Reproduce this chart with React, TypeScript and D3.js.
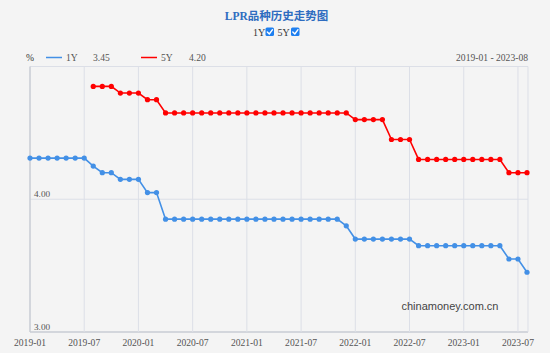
import React from 'react';
import * as d3 from 'd3';

// months 2019-01 .. 2023-08
const months: string[] = d3.range(0, 56).map(i => {
  const y = 2019 + Math.floor(i / 12);
  const m = (i % 12) + 1;
  return `${y}-${m < 10 ? '0' + m : m}`;
});

const rate1Y: number[] = [
  4.31, 4.31, 4.31, 4.31, 4.31, 4.31, 4.31, 4.25, 4.20, 4.20, 4.15, 4.15,
  4.15, 4.05, 4.05, 3.85, 3.85, 3.85, 3.85, 3.85, 3.85, 3.85, 3.85, 3.85,
  3.85, 3.85, 3.85, 3.85, 3.85, 3.85, 3.85, 3.85, 3.85, 3.85, 3.85, 3.80,
  3.70, 3.70, 3.70, 3.70, 3.70, 3.70, 3.70, 3.65, 3.65, 3.65, 3.65, 3.65,
  3.65, 3.65, 3.65, 3.65, 3.65, 3.55, 3.55, 3.45,
];

const rate5Y: (number | null)[] = [
  null, null, null, null, null, null, null, 4.85, 4.85, 4.85, 4.80, 4.80,
  4.80, 4.75, 4.75, 4.65, 4.65, 4.65, 4.65, 4.65, 4.65, 4.65, 4.65, 4.65,
  4.65, 4.65, 4.65, 4.65, 4.65, 4.65, 4.65, 4.65, 4.65, 4.65, 4.65, 4.65,
  4.60, 4.60, 4.60, 4.60, 4.45, 4.45, 4.45, 4.30, 4.30, 4.30, 4.30, 4.30,
  4.30, 4.30, 4.30, 4.30, 4.30, 4.20, 4.20, 4.20,
];

const xTicks = months.filter((_, i) => i % 6 === 0);
const yTicks = [3, 4];

const width = 550, height = 353;
const left = 30, right = 527, top = 66.5, bottom = 332;
const serif = '"Liberation Serif", "Times New Roman", "Noto Sans CJK SC", serif';
const textColor = '#555';
const blue = '#4390e6';
const red = '#ff0000';
const grid = '#dcdfe7';
const fs = 9.6;

const Check = ({ x, y }: { x: number; y: number }) => (
  <g transform={`translate(${x},${y})`}>
    <rect width={8.5} height={8.5} rx={1.5} fill="#1e7ff0" />
    <path d="M1.8 4.5 L3.8 6.5 L7 2.2" fill="none" stroke="#fff" strokeWidth={1.4} strokeLinecap="round" strokeLinejoin="round" />
  </g>
);

export default function App() {
  const x = d3.scalePoint<string>().domain(months).range([left, right]);
  const y = d3.scaleLinear().domain([3, 5]).range([bottom, top]);

  const line = d3.line<number | null>()
    .defined(d => d != null)
    .x((_, i) => x(months[i]) as number)
    .y(d => y(d as number));

  const series = [
    { name: '1Y', values: rate1Y as (number | null)[], color: blue },
    { name: '5Y', values: rate5Y, color: red },
  ];

  return (
    <svg width={width} height={height} style={{ position: 'absolute', left: 0, top: 0, background: '#f4f4f4' }}>
      <rect width={width} height={height} fill="#f4f4f4" />

      <text x={276.5} y={20} textAnchor="middle" fontFamily={serif} fontSize={11.5} fontWeight="bold" fill="#2e6cc0">LPR品种历史走势图</text>
      <text x={253} y={35.5} fontFamily={serif} fontSize={10} fill="#333">1Y</text>
      <Check x={265.5} y={27.5} />
      <text x={277.5} y={35.5} fontFamily={serif} fontSize={10} fill="#333">5Y</text>
      <Check x={291} y={27.5} />

      {/* legend row */}
      <text x={26} y={61} fontFamily={serif} fontSize={fs} fill="#333">%</text>
      <line x1={46} x2={62} y1={57.5} y2={57.5} stroke={blue} strokeWidth={1.5} />
      <text x={66} y={61} fontFamily={serif} fontSize={fs} fill={textColor}>1Y</text>
      <text x={93} y={61} fontFamily={serif} fontSize={fs} fill={textColor}>{rate1Y[rate1Y.length - 1].toFixed(2)}</text>
      <line x1={141} x2={157} y1={57.5} y2={57.5} stroke={red} strokeWidth={1.5} />
      <text x={161} y={61} fontFamily={serif} fontSize={fs} fill={textColor}>5Y</text>
      <text x={189} y={61} fontFamily={serif} fontSize={fs} fill={textColor}>{(rate5Y[rate5Y.length - 1] as number).toFixed(2)}</text>
      <text x={528} y={61} textAnchor="end" fontFamily={serif} fontSize={fs} fill={textColor}>{`${months[0]} - ${months[months.length - 1]}`}</text>

      {/* grid */}
      <line x1={left} x2={right + 1} y1={top} y2={top} stroke={grid} />
      {yTicks.map(t => (
        <g key={t}>
          <line x1={left} x2={right + 1} y1={y(t)} y2={y(t)} stroke={t === 3 ? '#c9cdd5' : grid} strokeWidth={t === 3 ? 1.5 : 1} />
          <text x={left + 4} y={y(t) - 2.5} fontFamily={serif} fontSize={9.2} fill={textColor}>{t.toFixed(2)}</text>
        </g>
      ))}
      {xTicks.map(m => (
        <g key={m}>
          <line x1={x(m)} x2={x(m)} y1={top} y2={bottom} stroke={m === months[0] ? '#c9cdd5' : grid} strokeWidth={m === months[0] ? 1.5 : 1} />
          <text x={x(m)} y={346} textAnchor="middle" fontFamily={serif} fontSize={fs} fill={textColor}>{m}</text>
        </g>
      ))}
      <line x1={right + 1} x2={right + 1} y1={top} y2={bottom} stroke={grid} />

      <text x={450} y={310} textAnchor="middle" fontFamily='"Liberation Sans", Arial, sans-serif' fontSize={11} fill="#444">chinamoney.com.cn</text>

      {series.map(s => (
        <g key={s.name}>
          <path d={line(s.values) || ''} fill="none" stroke={s.color} strokeWidth={1.6} />
          {s.values.map((v, i) => v == null ? null : (
            <circle key={i} cx={x(months[i])} cy={y(v)} r={2.6} fill={s.color} />
          ))}
        </g>
      ))}
    </svg>
  );
}
